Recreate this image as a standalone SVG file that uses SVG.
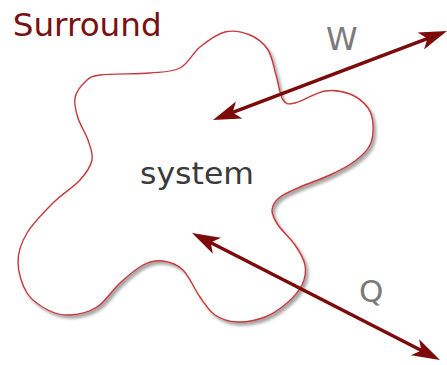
<svg xmlns="http://www.w3.org/2000/svg" width="447" height="365" viewBox="0 0 447 365">
  <style>
    .lbl { font-family: "DejaVu Sans", "Noto Sans", sans-serif; }
    .arrow { stroke: #7d0a0a; stroke-width: 3.5; fill: none; marker-start: url(#head); marker-end: url(#head); }
  </style>
  <defs>
    <filter id="shadow" x="-10%" y="-10%" width="130%" height="130%">
      <feDropShadow dx="2.5" dy="3" stdDeviation="1.8" flood-color="#000" flood-opacity="0.35"/>
    </filter>
    <marker id="head" markerUnits="userSpaceOnUse" markerWidth="30" markerHeight="20" viewBox="-29 -10 30 20" refX="-12" refY="0" orient="auto-start-reverse">
      <path d="M0,0 L-28,-9 L-21,0 L-28,9 Z" fill="#7d0a0a"/>
    </marker>
  </defs>
  <rect width="447" height="365" fill="#ffffff"/>
  <g id="surround">
    <text class="lbl" x="12.7" y="36" font-size="31.5" fill="#7a1010" textLength="149" lengthAdjust="spacingAndGlyphs">Surround</text>
  </g>
  <g id="system">
    <path filter="url(#shadow)" fill="#ffffff" stroke="#c8383c" stroke-width="1.4" d="M85,82 C89.2,78.2 89.2,76.5 100,75 S136.7,74.2 150,73 S171.7,72.3 180,68 S192.5,53 200,47 S216.7,34 225,32 S242.8,32 250,35 S263.7,43.3 268,50 S273.5,66.7 276,75 S279.8,95.3 283,100 S288,104.5 295,103 S315.8,92.5 325,91 S342.8,91.2 350,94 S364.2,102.8 368,108 S372.7,118.8 373,125 S373,139 370,145 S361.7,156 355,161 S339.2,170.7 330,175 S308.3,183.3 300,187 S284.7,193.2 280,197 S272.3,205.3 272,210 S274.2,219.2 278,225 S290.5,238.3 295,245 S303.8,258.3 305,265 S305,278.7 302,285 S293.2,297.7 287,303 S273.3,313.8 265,317 S245.3,322.3 237,322 S221.2,319.2 215,315 S205.3,304.5 200,297 S189.2,276 183,270 S169.7,261.8 163,261 S150.2,261.3 143,265 S127.7,276 120,283 S105.3,301.7 97,307 S78.2,314.5 70,315 S55.2,313.7 48,310 S32,301 27,293 S18,272 18,262 S21.2,242.8 27,233 S44.2,211.8 53,203 S73.5,187.2 80,180 S90.7,166.7 92,160 S90.3,147 88,140 S80.2,125 78,118 S73.8,104 75,98 S80.8,85.8 85,82 Z"/>
    <text class="lbl" x="140" y="184" font-size="30" fill="#3a3a3a" textLength="114" lengthAdjust="spacingAndGlyphs">system</text>
  </g>
  <g id="labels">
    <text class="lbl" x="326" y="50" font-size="32" fill="#7a7a7a">W</text>
    <text class="lbl" x="359" y="302" font-size="31" fill="#7a7a7a">Q</text>
  </g>
  <g id="connectors">
    <line class="arrow" x1="224.2" y1="115.7" x2="435.8" y2="35.3"/>
    <line class="arrow" x1="202.7" y1="238.5" x2="429.3" y2="354.5"/>
  </g>
</svg>
